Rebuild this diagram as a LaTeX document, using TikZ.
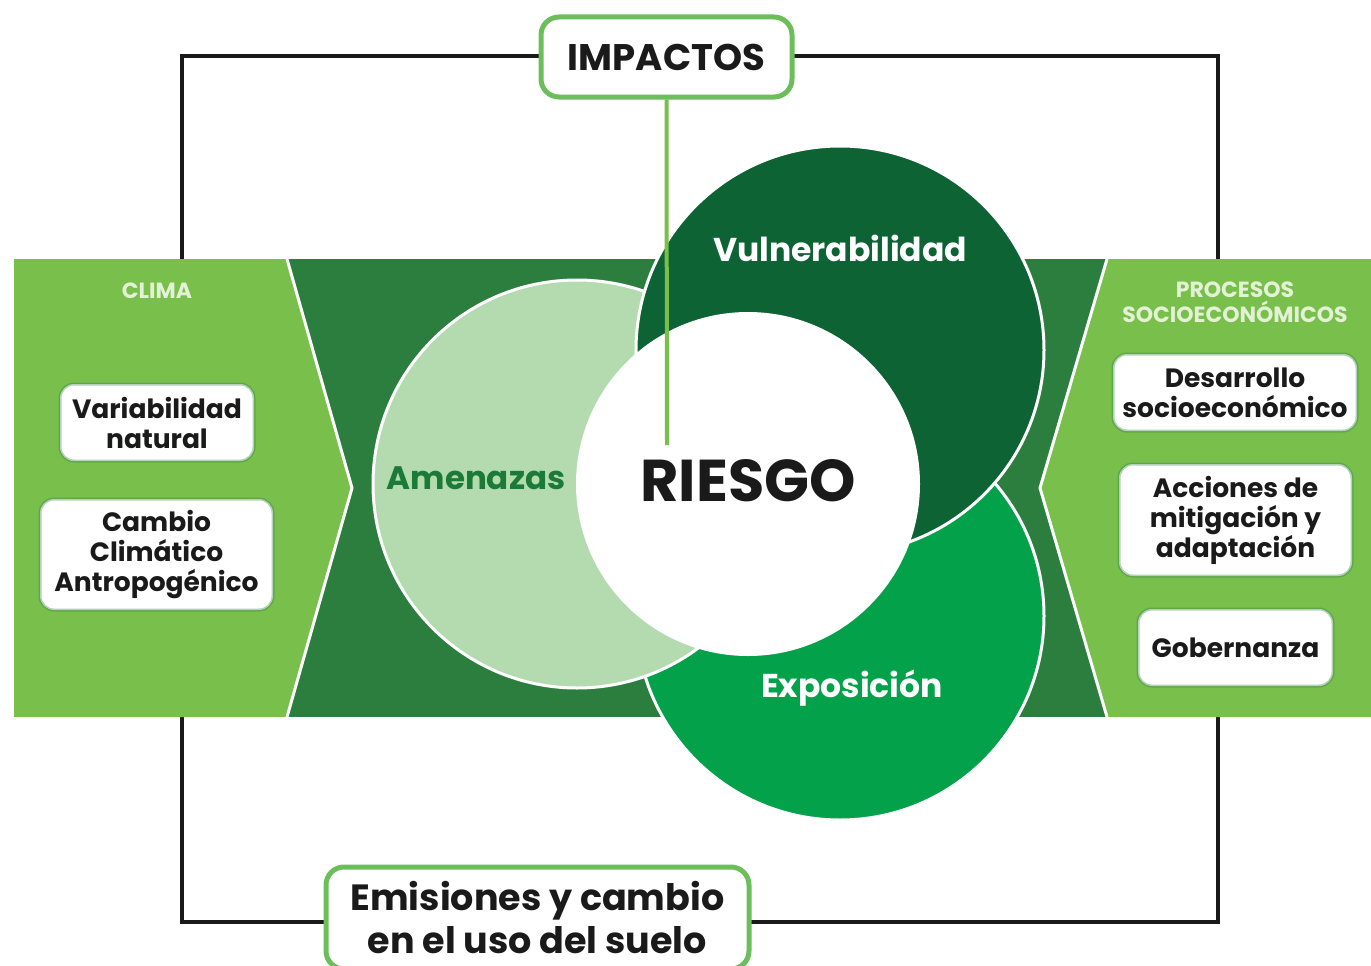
\documentclass[tikz,border=0pt]{standalone}
\usepackage{fontspec}
\setmainfont{Poppins}

\definecolor{panelgreen}{HTML}{79BF4B}
\definecolor{bandgreen}{HTML}{2B7E3E}
\definecolor{amenfill}{HTML}{B4DAAF}
\definecolor{vulnfill}{HTML}{0D6333}
\definecolor{expofill}{HTML}{04A14B}
\definecolor{amentext}{HTML}{1B7A3A}
\definecolor{headtext}{HTML}{E3F2D6}
\definecolor{rimgreen}{HTML}{6CBE5B}
\definecolor{inkblack}{HTML}{1A1A1A}

\newcommand{\fsz}[2]{\fontsize{#1}{#2}\selectfont\bfseries}

\tikzset{
  venn/.style={circle, draw=white, line width=3pt, inner sep=0pt, minimum size=#1},
  sidebox/.style={fill=white, rounded corners=14pt, align=center, text=inkblack,
    draw=bandgreen, draw opacity=0.35, line width=3pt, inner sep=0pt,
    font=\fsz{26.5}{30}},
  keybox/.style={fill=white, rounded corners=18pt, align=center, text=inkblack,
    draw=rimgreen, line width=5pt, inner sep=0pt},
  head/.style={text=headtext, align=center, font=\fsz{22}{25}},
  link/.style={draw=panelgreen, line width=4pt}
}

\begin{document}
\begin{tikzpicture}[x=1pt,y=-1pt]
    \useasboundingbox (0,0) rectangle (1371,966);

    % outer frame
    \draw[line width=4pt, inkblack](182,56) rectangle (1218,922);

    % green band with both side panels
    \fill[bandgreen](287,259) rectangle (1107,717);
    \fill[panelgreen](14,259)--(287,259)--(352,488)--(287,717)--(14,717)--cycle;
    \fill[panelgreen](1371,259)--(1107,259)--(1040,488)--(1107,717)--(1371,717)--cycle;
    \draw[white, line width=3pt](287,259)--(352,488)--(287,717);
    \draw[white, line width=3pt](1107,259)--(1040,488)--(1107,717);

    % circles
    \node[venn=408pt, fill=expofill] (expo) at (840,616) {};
    \node[venn=408pt, fill=amenfill] (amen) at (577,484) {};
    \node[venn=408pt, fill=vulnfill] (vuln) at (840,350) {};
    \node[circle, fill=white, inner sep=0pt, minimum size=344pt] (riesgo) at (748,484) {};

    \node[text=white, font=\fsz{33}{38}] (vulnlabel) at (840,248) {Vulnerabilidad};
    \node[text=amentext, font=\fsz{32.5}{36}] (amenlabel) at (476,478) {Amenazas};
    \node[text=white, font=\fsz{33}{38}] (expolabel) at (852,688) {Exposición};
    \node[text=inkblack, font=\fsz{59}{62}] (riesgolabel) at (748,481) {RIESGO};

    % top and bottom boxes
    \coordinate (tip) at (667,445);
    \node[keybox, minimum width=251pt, minimum height=80pt, font=\fsz{37}{40}] (impactos) at (666.5,57) {IMPACTOS};
    \draw[link](impactos.south)--(tip);
    \node[keybox, minimum width=423pt, minimum height=102pt, font=\fsz{36.5}{43}] (emisiones) at (537.5,918) {Emisiones y cambio\\en el uso del suelo};

    % left panel
    \node[head] (clima) at (157,291) {CLIMA};
    \node[sidebox, minimum width=194pt, minimum height=77pt] (variab) at (157,422.5) {Variabilidad\\natural};
    \node[sidebox, minimum width=233pt, minimum height=111pt] (cambio) at (156.5,554.5) {Cambio\\Climático\\Antropogénico};

    % right panel
    \node[head] (procesos) at (1235,302.5) {PROCESOS\\SOCIOECONÓMICOS};
    \node[sidebox, minimum width=244pt, minimum height=77pt] (desarrollo) at (1235,392.5) {Desarrollo\\socioeconómico};
    \node[sidebox, minimum width=233pt, minimum height=112pt] (acciones) at (1235.5,520) {Acciones de\\mitigación y\\adaptación};
    \node[sidebox, minimum width=195pt, minimum height=77pt] (gobernanza) at (1235.5,647.5) {Gobernanza};

\end{tikzpicture}
\end{document}
